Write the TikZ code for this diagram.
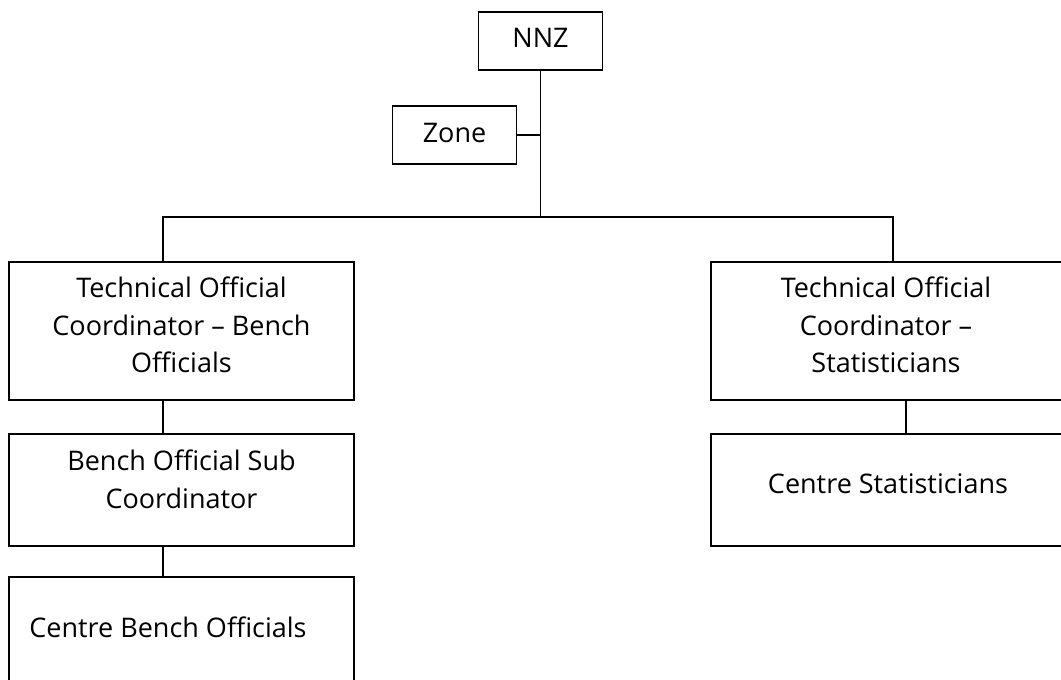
\documentclass[tikz,border=0pt]{standalone}
\usepackage{fontspec}
\setmainfont{Open Sans}
\begin{document}
\begin{tikzpicture}[x=1pt,y=-1pt,
  box/.style={draw=black,line width=1.9pt,rectangle,inner sep=0pt},
  txt/.style={inner sep=0pt,align=center,font=\fontsize{27}{37.5}\selectfont,text=black},
  conn/.style={draw=black,line width=1.9pt}]
\useasboundingbox (0,0) rectangle (1061,680);
\clip (0,0) rectangle (1061,680);
% boxes
\node[box,minimum width=124pt,minimum height=58pt] (nnz) at (540.5,41) {};
\node[txt] (nnzt) at (540.5,37.5) {NNZ};
\node[box,minimum width=124pt,minimum height=58pt] (zone) at (454.5,135) {};
\node[txt] (zonet) at (454.5,132.5) {Zone};
\node[box,minimum width=345pt,minimum height=138pt] (tl) at (181.5,331) {};
\node[txt] (tlt) at (181.5,325) {Technical Official\\Coordinator – Bench\\Officials};
\node[box,minimum width=345pt,minimum height=112pt] (sub) at (181.5,490) {};
\node[txt] (subt) at (181.5,479.5) {Bench Official Sub\\Coordinator};
\node[box,minimum width=345pt,minimum height=126pt] (cb) at (181.5,640) {};
\node[txt] (cbt) at (168,627.5) {Centre Bench Officials};
\node[box,minimum width=354pt,minimum height=138pt] (tr) at (888,331) {};
\node[txt] (trt) at (886,325) {Technical Official\\Coordinator –\\Statisticians};
\node[box,minimum width=354pt,minimum height=112pt] (cs) at (888,490) {};
\node[txt] (cst) at (888,484) {Centre Statisticians};
% connector points
\coordinate (j) at (540.5,217);
\coordinate (lx) at (163,0);
\coordinate (rx) at (893,0);
\coordinate (rx2) at (906,0);
% connectors
\draw[conn] (nnz.south) -- (j);
\draw[conn] (zone.east) -- (zone.east -| nnz.south);
\draw[conn] (tl.north -| lx) |- (j) -| (tr.north -| rx);
\draw[conn] (tl.south -| lx) -- (sub.north -| lx);
\draw[conn] (sub.south -| lx) -- (cb.north -| lx);
\draw[conn] (tr.south -| rx2) -- (cs.north -| rx2);
\end{tikzpicture}
\end{document}
